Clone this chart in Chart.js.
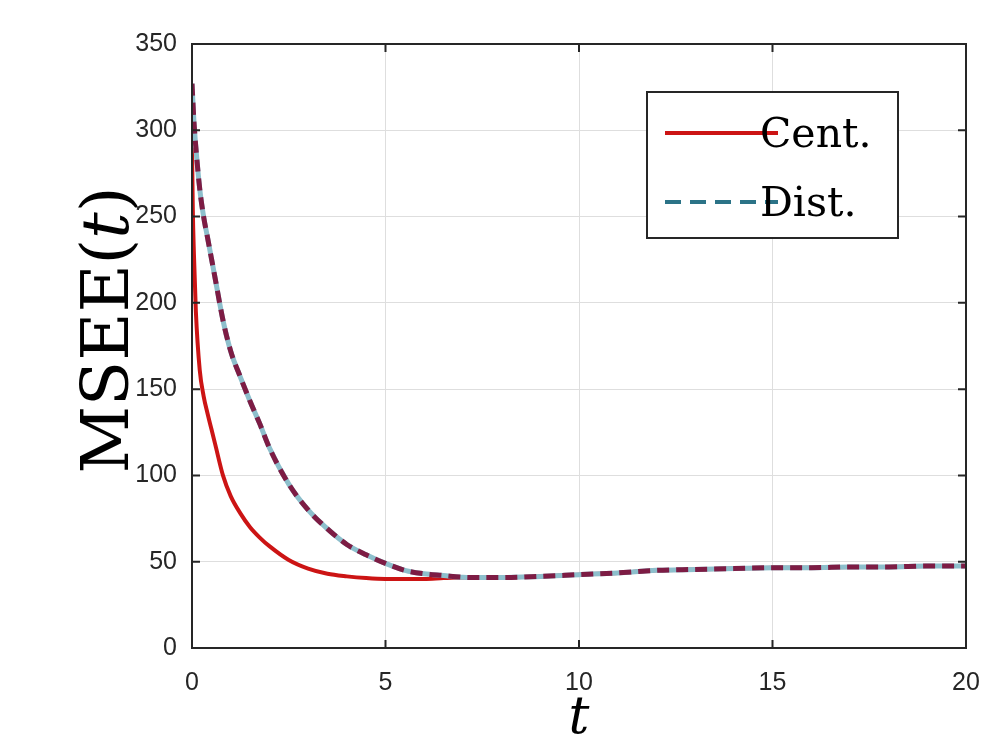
<!DOCTYPE html>
<html>
<head>
<meta charset="utf-8">
<script src="https://cdn.jsdelivr.net/npm/chart.js@4.4.0/dist/chart.umd.min.js"></script>
<style>
  html, body { margin: 0; padding: 0; background: #ffffff; }
  #wrap { width: 1008px; height: 738px; }
</style>
</head>
<body>
<div id="wrap"><canvas id="mseeChart" width="1008" height="738"></canvas></div>
<script>
// values
const tValues = [0, 0.02, 0.05, 0.1, 0.2, 0.3, 0.4, 0.5, 0.6, 0.8, 1.0, 1.25, 1.5, 1.75, 2, 2.5, 3, 3.5, 4, 4.5, 5, 5.5, 6, 6.5, 7, 7.5, 8, 9, 10, 11, 12, 13, 14, 15, 16, 17, 18, 19, 20];
const centValues = [290, 255, 228, 195, 161, 146, 136, 127, 118, 100, 88, 78, 70, 64, 59, 51, 46, 43, 41.5, 40.5, 40, 40, 40, 40.5, 40.8, 40.8, 40.8, 41.5, 42.5, 43.5, 45, 45.5, 46, 46.5, 46.5, 47, 47, 47.5, 47.5];
const distValues = [327, 318, 305, 290, 266, 250, 238, 226, 214, 190, 172, 157, 143, 130, 116, 95, 80, 69, 60, 54, 49, 45, 43, 42, 41, 40.8, 40.8, 41.5, 42.5, 43.5, 45, 45.5, 46, 46.5, 46.5, 47, 47, 47.5, 47.5];
const seriesLabels = ["Cent.", "Dist."];
const xTicks = [0, 5, 10, 15, 20];
const yTicks = [0, 50, 100, 150, 200, 250, 300, 350];

const toPoints = (ys) => tValues.map((t, i) => ({ x: t, y: ys[i] }));

const RED = "#cc1414";
const DIST_DARK = "#7d1c44";
const DIST_LIGHT = "#8dbfcc";
const DIST_LEGEND = "#2b7387";

// box, inward ticks, axis titles and legend (MATLAB look)
const matlabFrame = {
    id: "matlabFrame",
    afterDraw(chart) {
        const ctx = chart.ctx;
        const a = chart.chartArea;
        const xs = chart.scales.x;
        const ys = chart.scales.y;
        ctx.save();
        ctx.strokeStyle = "#262626";
        ctx.lineWidth = 2;
        ctx.beginPath();
        for (let v of xTicks) {
            const px = xs.getPixelForValue(v);
            ctx.moveTo(px, a.bottom); ctx.lineTo(px, a.bottom - 8);
            ctx.moveTo(px, a.top); ctx.lineTo(px, a.top + 8);
        }
        for (let v of yTicks) {
            const py = ys.getPixelForValue(v);
            ctx.moveTo(a.left, py); ctx.lineTo(a.left + 8, py);
            ctx.moveTo(a.right, py); ctx.lineTo(a.right - 8, py);
        }
        ctx.stroke();
        ctx.strokeRect(a.left, a.top, a.right - a.left, a.bottom - a.top);

        // y title: MSEE(t)
        ctx.fillStyle = "#000000";
        ctx.translate(128, (a.top + a.bottom) / 2 - 16);
        ctx.rotate(-Math.PI / 2);
        const upright = "66px 'DejaVu Serif'";
        const slanted = "italic 66px 'DejaVu Serif'";
        const parts = [["MSEE(", upright], ["t", slanted], [")", upright]];
        let total = 0;
        for (let p of parts) { ctx.font = p[1]; total += ctx.measureText(p[0]).width; }
        let cx = -total / 2;
        ctx.textBaseline = "alphabetic";
        ctx.textAlign = "left";
        for (let p of parts) {
            ctx.font = p[1];
            ctx.fillText(p[0], cx, 0);
            cx += ctx.measureText(p[0]).width;
        }
        ctx.restore();

        // x title: t
        ctx.save();
        ctx.fillStyle = "#000000";
        ctx.font = "italic 52px 'DejaVu Serif'";
        ctx.textAlign = "center";
        ctx.textBaseline = "alphabetic";
        ctx.fillText("t", (a.left + a.right) / 2, 733);
        ctx.restore();

        // legend
        ctx.save();
        const lx = 647, ly = 92, lw = 251, lh = 146;
        ctx.fillStyle = "#ffffff";
        ctx.fillRect(lx, ly, lw, lh);
        ctx.strokeStyle = "#262626";
        ctx.lineWidth = 2;
        ctx.strokeRect(lx, ly, lw, lh);
        const rows = [
            { label: seriesLabels[0], color: RED, dash: [], y: 133 },
            { label: seriesLabels[1], color: DIST_LEGEND, dash: [16, 9], y: 202 }
        ];
        for (let r of rows) {
            ctx.strokeStyle = r.color;
            ctx.lineWidth = 4;
            ctx.setLineDash(r.dash);
            ctx.beginPath();
            ctx.moveTo(665, r.y);
            ctx.lineTo(778, r.y);
            ctx.stroke();
            ctx.setLineDash([]);
            ctx.fillStyle = "#000000";
            ctx.font = "41px 'DejaVu Serif'";
            ctx.textAlign = "left";
            ctx.textBaseline = "alphabetic";
            ctx.fillText(r.label, 760, r.y + 14);
        }
        ctx.restore();
    }
};

const ctx = document.getElementById("mseeChart").getContext("2d");
new Chart(ctx, {
    type: "line",
    data: {
        datasets: [
            {
                label: seriesLabels[0],
                data: toPoints(centValues),
                borderColor: RED,
                borderWidth: 4,
                pointRadius: 0,
                fill: false,
                order: 3,
                cubicInterpolationMode: "monotone"
            },
            {
                label: seriesLabels[1],
                data: toPoints(distValues),
                borderColor: DIST_LIGHT,
                borderWidth: 5,
                pointRadius: 0,
                fill: false,
                order: 2,
                cubicInterpolationMode: "monotone"
            },
            {
                label: seriesLabels[1],
                data: toPoints(distValues),
                borderColor: DIST_DARK,
                borderWidth: 5,
                borderDash: [12, 7],
                pointRadius: 0,
                fill: false,
                order: 1,
                cubicInterpolationMode: "monotone"
            }
        ]
    },
    options: {
        responsive: false,
        animation: false,
        layout: { padding: { left: 0, top: 44, right: 42, bottom: 0 } },
        plugins: {
            legend: { display: false },
            tooltip: { enabled: false }
        },
        scales: {
            x: {
                type: "linear",
                min: 0,
                max: 20,
                afterFit: (scale) => { scale.height = 90; },
                afterBuildTicks: (scale) => { scale.ticks = xTicks.map(v => ({ value: v })); },
                grid: { color: "#dedede", lineWidth: 1, drawTicks: false },
                border: { display: false },
                ticks: {
                    color: "#262626",
                    font: { family: "'Liberation Sans'", size: 25 },
                    padding: 20,
                    maxRotation: 0
                }
            },
            y: {
                min: 0,
                max: 350,
                afterFit: (scale) => { scale.width = 192; },
                afterBuildTicks: (scale) => { scale.ticks = yTicks.map(v => ({ value: v })); },
                grid: { color: "#dedede", lineWidth: 1, drawTicks: false },
                border: { display: false },
                ticks: {
                    color: "#262626",
                    font: { family: "'Liberation Sans'", size: 25 },
                    padding: 15
                }
            }
        }
    },
    plugins: [matlabFrame]
});
</script>
</body>
</html>
